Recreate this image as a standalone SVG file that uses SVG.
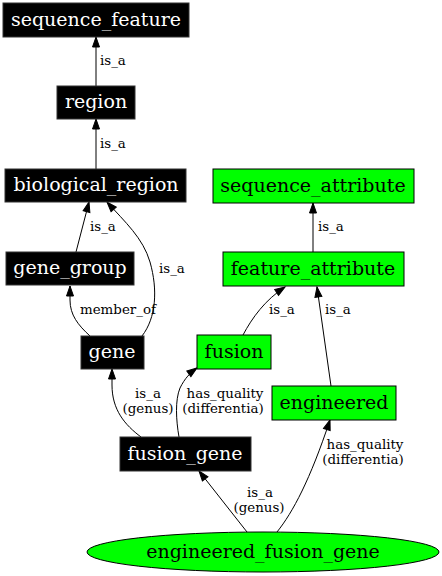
<svg xmlns="http://www.w3.org/2000/svg" width="442" height="576" viewBox="0 0 442 576">
<style>
.bk rect{fill:#000;stroke:#333;stroke-width:1}
.gr rect,.gr ellipse{fill:#00ff00;stroke:#000;stroke-width:1}
.bk text{fill:#fff}
text{font-family:"DejaVu Serif",serif}
.n text{font-size:19px;text-anchor:middle}
.e path{fill:none;stroke:#000;stroke-width:1;marker-end:url(#ah)}
.e text{font-size:13.4px;fill:#000}
</style>
<defs>
<marker id="ah" markerUnits="userSpaceOnUse" markerWidth="12" markerHeight="10" refX="10" refY="4" orient="auto" viewBox="0 0 12 8" overflow="visible">
<path d="M0,0.5 L10,4 L0,7.5 z" fill="#000" stroke="#000" stroke-width="1"/>
</marker>
</defs>
<rect width="442" height="576" fill="#fff"/>
<g class="e" id="edges">
<path d="M96,86 L96,37"/>
<text x="100" y="65">is_a</text>
<path d="M96,169 L96,119"/>
<text x="100" y="148">is_a</text>
<path d="M76,252 L89,202"/>
<text x="90" y="231">is_a</text>
<path d="M142,336 C156,318 158,290 150,262 C143,238 125,222 107,202"/>
<text x="159" y="273">is_a</text>
<path d="M90,336 C78,325 70,315 70,300 L70,286"/>
<text x="80" y="314">member_of</text>
<path d="M141,437 C125,425 112,410 112,385 L112,369"/>
<text x="148" y="398" text-anchor="middle">is_a</text>
<text x="148" y="413" text-anchor="middle">(genus)</text>
<path d="M179,437 C176,420 175,400 180,388 C185,378 190,373 197,368"/>
<text x="225" y="398" text-anchor="middle">has_quality</text>
<text x="223" y="413" text-anchor="middle">(differentia)</text>
<path d="M243,335 C252,318 265,300 285,287"/>
<text x="269" y="314">is_a</text>
<path d="M331,386 L317,287"/>
<text x="325" y="314">is_a</text>
<path d="M313,252 L313,203"/>
<text x="318" y="231">is_a</text>
<path d="M247,532 L199,471"/>
<text x="260" y="497" text-anchor="middle">is_a</text>
<text x="259" y="512" text-anchor="middle">(genus)</text>
<path d="M277,532 C293,512 310,480 330,420"/>
<text x="365" y="449" text-anchor="middle">has_quality</text>
<text x="363" y="464" text-anchor="middle">(differentia)</text>
</g>
<g id="sequence_feature" class="n bk"><rect x="3" y="3" width="186" height="34"/><text x="96" y="26">sequence_feature</text></g>
<g id="region" class="n bk"><rect x="57" y="86" width="78" height="33"/><text x="96" y="108">region</text></g>
<g id="biological_region" class="n bk"><rect x="5" y="169" width="181" height="33"/><text x="96" y="191">biological_region</text></g>
<g id="gene_group" class="n bk"><rect x="6" y="252" width="128" height="33"/><text x="70" y="274">gene_group</text></g>
<g id="gene" class="n bk"><rect x="81" y="336" width="63" height="33"/><text x="112" y="358">gene</text></g>
<g id="fusion_gene" class="n bk"><rect x="120" y="437" width="131" height="34"/><text x="185" y="460">fusion_gene</text></g>
<g id="sequence_attribute" class="n gr"><rect x="213" y="169" width="201" height="34"/><text x="313" y="192">sequence_attribute</text></g>
<g id="feature_attribute" class="n gr"><rect x="223" y="252" width="181" height="34"/><text x="313" y="275">feature_attribute</text></g>
<g id="fusion" class="n gr"><rect x="197" y="335" width="74" height="34"/><text x="234" y="358">fusion</text></g>
<g id="engineered" class="n gr"><rect x="272" y="386" width="124" height="34"/><text x="334" y="409">engineered</text></g>
<g id="engineered_fusion_gene" class="n gr"><ellipse cx="263" cy="552" rx="176" ry="20"/><text x="263" y="558">engineered_fusion_gene</text></g>
</svg>
